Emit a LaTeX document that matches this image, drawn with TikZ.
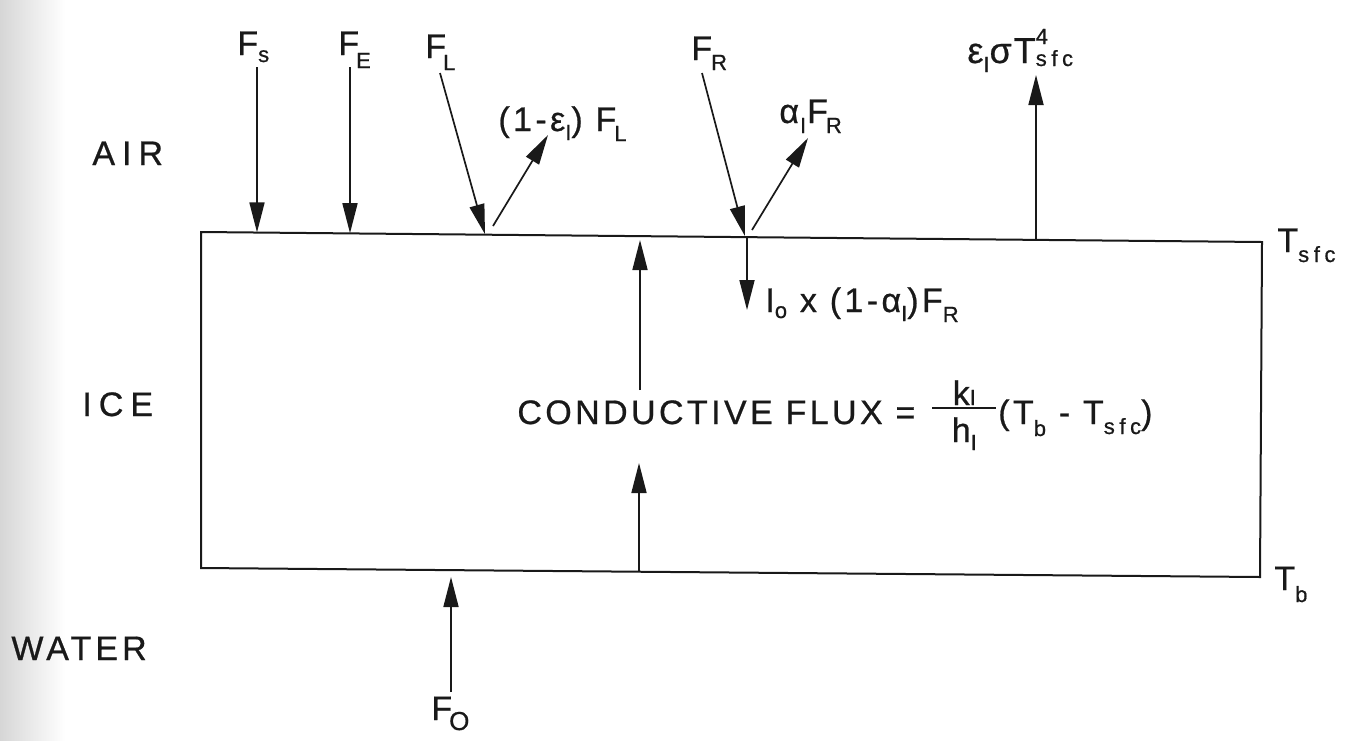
\documentclass[tikz,border=0pt]{standalone}
\usepackage{fontspec}
\setmainfont{Liberation Sans}[LetterSpace=10,FakeBold=0.7]
\usetikzlibrary{arrows.meta}
\newcommand{\sbs}[2][4.5pt]{\raisebox{-#1}{\fontsize{11}{12}\selectfont #2}}
\newcommand{\sps}[1]{\raisebox{9.5pt}{\fontsize{11}{12}\selectfont #1}}
\newcommand{\sfcx}{s\hspace{2.3pt}f\hspace{2.3pt}c}
\newcommand{\kfrac}{\hbox{\rlap{\rule[7.5pt]{32pt}{1pt}}\rlap{\hbox to 32pt{\hss\raisebox{9.5pt}{k\sbs[0pt]{I}}\hss}}\hbox to 32pt{\hss\raisebox{-9pt}{h\sbs[4pt]{I}}\hss}}}
\begin{document}
\begin{tikzpicture}[x=0.5pt,y=-0.5pt,
  lbl/.style={font=\fontsize{17}{20}\selectfont, text=black!90, inner sep=0pt, anchor=base west},
  flux/.style={draw=black!90, line width=0.85pt, -{Triangle[length=15pt,width=7.5pt]}},
  icebox/.style={draw=black!90, line width=1pt, line join=miter}]
\useasboundingbox (0,0) rectangle (1354,740);
\shade[left color=black!16, right color=white] (0,0) rectangle (65,740);

% ice slab
\coordinate (tl) at (201,232);
\coordinate (tr) at (1262,242);
\coordinate (br) at (1260,577);
\coordinate (bl) at (201,568);
\draw[icebox] (tl) -- (tr) -- (br) -- (bl) -- cycle;

% region labels
\node[lbl] (air) at (92,165) {A\hspace{3.5pt}I\hspace{3.5pt}R};
\node[lbl] (ice) at (82,416) {I\hspace{3.5pt}C\hspace{3.5pt}E};
\node[lbl] (water) at (11,660) {\addfontfeature{LetterSpace=12}WATER};

% flux labels
\node[lbl] (fs) at (237,55) {F\sbs[3.5pt]{s}};
\node[lbl] (fe) at (338,55) {F\kern-1.5pt\sbs[6.5pt]{E}};
\node[lbl] (fl) at (425,58) {F\kern-1.5pt\sbs[6pt]{L}};
\node[lbl] (fr) at (691,60) {F\kern-0.5pt\sbs[5pt]{R}};
\node[lbl] (rl) at (498,131) {(1-ε\sbs{I}) F\kern-1pt\sbs[5pt]{L}};
\node[lbl] (rr) at (779,123) {α\kern0.5pt\sbs[5pt]{I}\kern0.5pt F\kern-1pt\sbs[5pt]{R}};
\node[lbl, font=\fontsize{18}{21}\selectfont] (em) at (967,63) {ε\sbs{I}σ\kern1pt T\rlap{\sps{4}}\sbs[1.5pt]{\sfcx}};
\node[lbl] (tra) at (765,312) {I\sbs[3pt]{o} x (1-α\sbs{I})F\sbs[5pt]{R}};
\node[lbl] (tsfc) at (1277,252) {T\sbs[5pt]{\sfcx}};
\node[lbl] (tb) at (1274,590) {T\sbs[6pt]{b}};
\node[lbl] (fo) at (431,720) {F\kern-1.5pt\sbs[5pt]{\fontsize{13}{14}\selectfont O}};
\node[lbl] (cf) at (517,424) {CONDUCTIVE FLUX = \kern2pt\kfrac\kern1pt(T\sbs[6pt]{b} - T\sbs[5pt]{\sfcx})};

% arrow end points
\coordinate (fsA) at (257,67);   \coordinate (fsB) at (257,232.4);
\coordinate (feA) at (350,67);   \coordinate (feB) at (350,233.2);
\coordinate (flA) at (440,73);   \coordinate (flB) at (485,234.2);
\coordinate (rlA) at (493,226);  \coordinate (rlB) at (548,135);
\coordinate (frA) at (702,73);   \coordinate (frB) at (745,236.2);
\coordinate (rrA) at (752,230);  \coordinate (rrB) at (808,138);
\coordinate (trA) at (747,237);  \coordinate (trB) at (747,310);
\coordinate (emA) at (1036,239); \coordinate (emB) at (1036,75);
\coordinate (cuA) at (640,390);  \coordinate (cuB) at (640,240);
\coordinate (clA) at (639,571);  \coordinate (clB) at (639,463);
\coordinate (foA) at (451,692);  \coordinate (foB) at (451,577);

\draw[flux] (fsA) -- (fsB);
\draw[flux] (feA) -- (feB);
\draw[flux] (flA) -- (flB);
\draw[flux] (rlA) -- (rlB);
\draw[flux] (frA) -- (frB);
\draw[flux] (rrA) -- (rrB);
\draw[flux] (trA) -- (trB);
\draw[flux] (emA) -- (emB);
\draw[flux] (cuA) -- (cuB);
\draw[flux] (clA) -- (clB);
\draw[flux] (foA) -- (foB);
\end{tikzpicture}
\end{document}
